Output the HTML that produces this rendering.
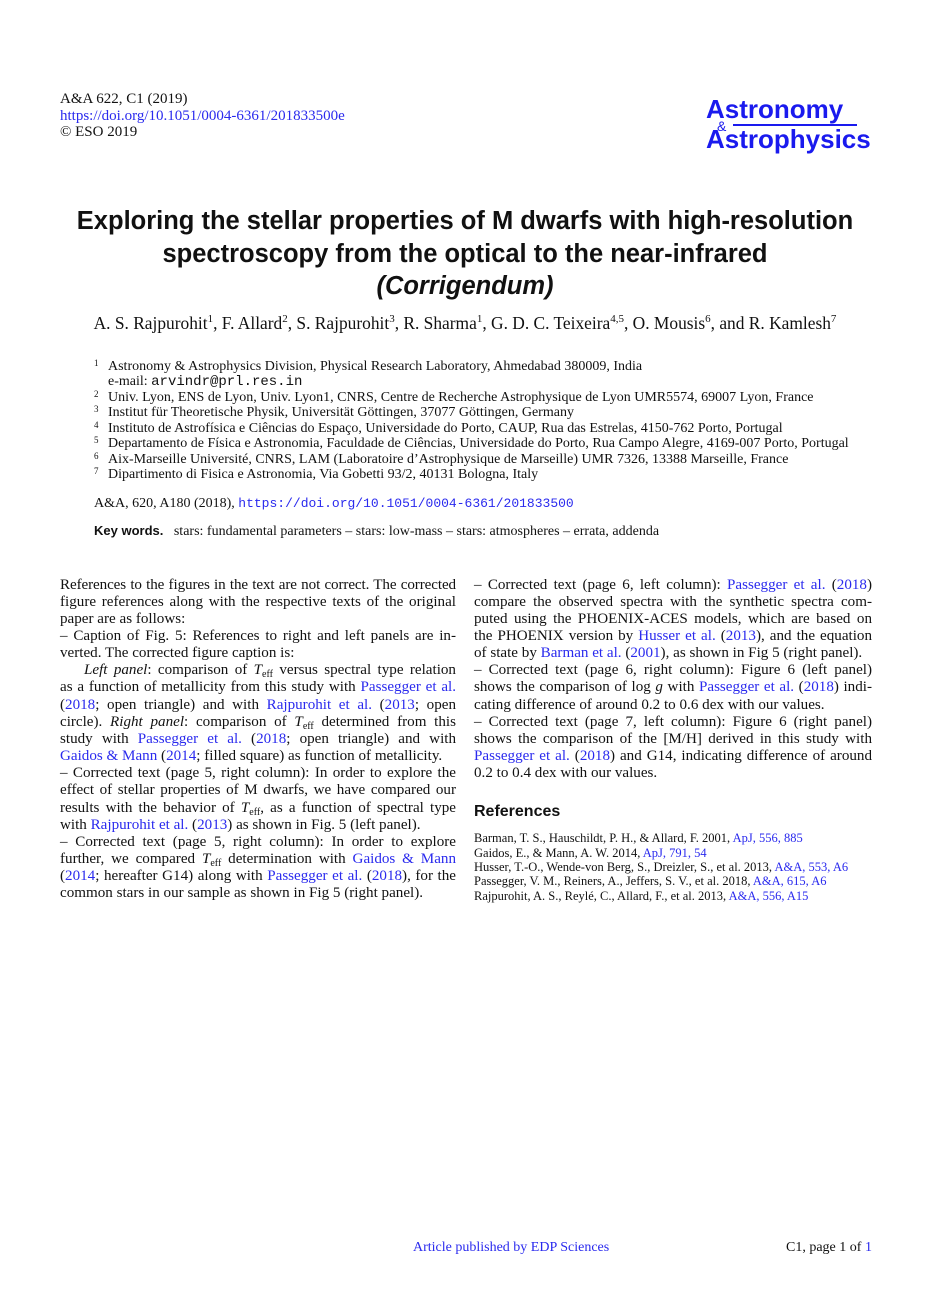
<!DOCTYPE html>
<html><head><meta charset="utf-8">
<style>
html,body{margin:0;padding:0;background:#fff;}
body{width:930px;height:1316px;position:relative;overflow:hidden;font-family:"Liberation Serif",serif;color:#111;}
.a{position:absolute;white-space:nowrap;}
.b{font-size:15.1px;line-height:17px;}
.j{width:396px;text-align:justify;text-align-last:justify;white-space:normal;}
.r{width:398px;}
a,.k{color:#2a2aee;text-decoration:none;}
.t{font-family:"Liberation Sans",sans-serif;font-weight:bold;font-size:25.5px;left:0;width:930px;text-align:center;}
.af{font-size:14px;line-height:15px;}
.af sup{font-size:9px;position:absolute;left:-14px;top:-3px;}
.rf{font-size:12.5px;line-height:14px;left:474px;}
sub{font-size:10px;vertical-align:-3px;line-height:0;}
.m{font-family:"Liberation Mono",monospace;}
</style></head><body>

<div class="a" style="left:60px;top:91px;font-size:15px;line-height:16.5px;">A&amp;A 622, C1 (2019)<br><span class="k">https://doi.org/10.1051/0004-6361/201833500e</span><br>© ESO 2019</div>

<div class="a" style="left:706px;top:94px;font-family:'Liberation Sans',sans-serif;font-weight:bold;font-size:26px;color:#1a1aee;line-height:30px;">Astronomy<br>Astrophysics</div>
<div class="a" style="left:733px;top:124px;width:124px;height:2px;background:#1a1aee;"></div>
<div class="a" style="left:717px;top:118px;font-family:'Liberation Sans',sans-serif;font-size:14px;color:#1a1aee;">&amp;</div>

<div class="a t" style="top:207px;">Exploring the stellar properties of M dwarfs with high-resolution</div>
<div class="a t" style="top:240px;">spectroscopy from the optical to the near-infrared</div>
<div class="a t" style="top:272px;font-style:italic;">(Corrigendum)</div>

<div class="a" style="left:0;width:930px;text-align:center;top:313px;font-size:17.4px;">A. S. Rajpurohit<sup style="font-size:11px">1</sup>, F. Allard<sup style="font-size:11px">2</sup>, S. Rajpurohit<sup style="font-size:11px">3</sup>, R. Sharma<sup style="font-size:11px">1</sup>, G. D. C. Teixeira<sup style="font-size:11px">4,5</sup>, O. Mousis<sup style="font-size:11px">6</sup>, and R. Kamlesh<sup style="font-size:11px">7</sup></div>

<div class="a af" style="left:108px;top:359px;"><sup>1</sup>Astronomy &amp; Astrophysics Division, Physical Research Laboratory, Ahmedabad 380009, India</div>
<div class="a af" style="left:108px;top:374px;">e-mail: <span class="m">arvindr@prl.res.in</span></div>
<div class="a af" style="left:108px;top:390px;"><sup>2</sup>Univ. Lyon, ENS de Lyon, Univ. Lyon1, CNRS, Centre de Recherche Astrophysique de Lyon UMR5574, 69007 Lyon, France</div>
<div class="a af" style="left:108px;top:405px;"><sup>3</sup>Institut für Theoretische Physik, Universität Göttingen, 37077 Göttingen, Germany</div>
<div class="a af" style="left:108px;top:421px;"><sup>4</sup>Instituto de Astrofísica e Ciências do Espaço, Universidade do Porto, CAUP, Rua das Estrelas, 4150-762 Porto, Portugal</div>
<div class="a af" style="left:108px;top:436px;"><sup>5</sup>Departamento de Física e Astronomia, Faculdade de Ciências, Universidade do Porto, Rua Campo Alegre, 4169-007 Porto, Portugal</div>
<div class="a af" style="left:108px;top:452px;"><sup>6</sup>Aix-Marseille Université, CNRS, LAM (Laboratoire d’Astrophysique de Marseille) UMR 7326, 13388 Marseille, France</div>
<div class="a af" style="left:108px;top:467px;"><sup>7</sup>Dipartimento di Fisica e Astronomia, Via Gobetti 93/2, 40131 Bologna, Italy</div>

<div class="a af" style="left:94px;top:496px;">A&amp;A, 620, A180 (2018), <span class="k m" style="font-size:13px;">https://doi.org/10.1051/0004-6361/201833500</span></div>
<div class="a af" style="left:94px;top:523px;"><b style="font-family:'Liberation Sans',sans-serif;font-size:13px;">Key words.</b>&nbsp;&nbsp; stars: fundamental parameters – stars: low-mass – stars: atmospheres – errata, addenda</div>

<!-- left column -->
<div class="a b j" style="left:60px;top:577px;letter-spacing:-0.1px;">References to the figures in the text are not correct. The corrected</div>
<div class="a b j" style="left:60px;top:594px;">figure references along with the respective texts of the original</div>
<div class="a b" style="left:60px;top:611px;">paper are as follows:</div>
<div class="a b j" style="left:60px;top:628px;">– Caption of Fig. 5: References to right and left panels are in-</div>
<div class="a b" style="left:60px;top:645px;">verted. The corrected figure caption is:</div>
<div class="a b j" style="left:60px;top:662px;padding-left:24px;width:372px;"><i>Left panel</i>: comparison of <i>T</i><sub>eff</sub> versus spectral type relation</div>
<div class="a b j" style="left:60px;top:679px;">as a function of metallicity from this study with <span class="k">Passegger et al.</span></div>
<div class="a b j" style="left:60px;top:697px;">(<span class="k">2018</span>; open triangle) and with <span class="k">Rajpurohit et al.</span> (<span class="k">2013</span>; open</div>
<div class="a b j" style="left:60px;top:714px;">circle). <i>Right panel</i>: comparison of <i>T</i><sub>eff</sub> determined from this</div>
<div class="a b j" style="left:60px;top:731px;">study with <span class="k">Passegger et al.</span> (<span class="k">2018</span>; open triangle) and with</div>
<div class="a b" style="left:60px;top:748px;"><span class="k">Gaidos &amp; Mann</span> (<span class="k">2014</span>; filled square) as function of metallicity.</div>
<div class="a b j" style="left:60px;top:765px;">– Corrected text (page 5, right column): In order to explore the</div>
<div class="a b j" style="left:60px;top:782px;">effect of stellar properties of M dwarfs, we have compared our</div>
<div class="a b j" style="left:60px;top:800px;">results with the behavior of <i>T</i><sub>eff</sub>, as a function of spectral type</div>
<div class="a b" style="left:60px;top:817px;">with <span class="k">Rajpurohit et al.</span> (<span class="k">2013</span>) as shown in Fig. 5 (left panel).</div>
<div class="a b j" style="left:60px;top:834px;">– Corrected text (page 5, right column): In order to explore</div>
<div class="a b j" style="left:60px;top:851px;">further, we compared <i>T</i><sub>eff</sub> determination with <span class="k">Gaidos &amp; Mann</span></div>
<div class="a b j" style="left:60px;top:868px;">(<span class="k">2014</span>; hereafter G14) along with <span class="k">Passegger et al.</span> (<span class="k">2018</span>), for the</div>
<div class="a b" style="left:60px;top:885px;">common stars in our sample as shown in Fig 5 (right panel).</div>

<!-- right column -->
<div class="a b j r" style="left:474px;top:577px;">– Corrected text (page 6, left column): <span class="k">Passegger et al.</span> (<span class="k">2018</span>)</div>
<div class="a b j r" style="left:474px;top:594px;">compare the observed spectra with the synthetic spectra com-</div>
<div class="a b j r" style="left:474px;top:611px;">puted using the PHOENIX-ACES models, which are based on</div>
<div class="a b j r" style="left:474px;top:628px;">the PHOENIX version by <span class="k">Husser et al.</span> (<span class="k">2013</span>), and the equation</div>
<div class="a b" style="left:474px;top:645px;">of state by <span class="k">Barman et al.</span> (<span class="k">2001</span>), as shown in Fig 5 (right panel).</div>
<div class="a b j r" style="left:474px;top:662px;">– Corrected text (page 6, right column): Figure 6 (left panel)</div>
<div class="a b j r" style="left:474px;top:679px;">shows the comparison of log <i>g</i> with <span class="k">Passegger et al.</span> (<span class="k">2018</span>) indi-</div>
<div class="a b" style="left:474px;top:697px;">cating difference of around 0.2 to 0.6 dex with our values.</div>
<div class="a b j r" style="left:474px;top:714px;">– Corrected text (page 7, left column): Figure 6 (right panel)</div>
<div class="a b j r" style="left:474px;top:731px;">shows the comparison of the [M/H] derived in this study with</div>
<div class="a b j r" style="left:474px;top:748px;"><span class="k">Passegger et al.</span> (<span class="k">2018</span>) and G14, indicating difference of around</div>
<div class="a b" style="left:474px;top:765px;">0.2 to 0.4 dex with our values.</div>

<div class="a" style="left:474px;top:803px;font-family:'Liberation Sans',sans-serif;font-weight:bold;font-size:16px;">References</div>
<div class="a rf" style="top:831px;">Barman, T. S., Hauschildt, P. H., &amp; Allard, F. 2001, <span class="k">ApJ, 556, 885</span></div>
<div class="a rf" style="top:846px;">Gaidos, E., &amp; Mann, A. W. 2014, <span class="k">ApJ, 791, 54</span></div>
<div class="a rf" style="top:860px;">Husser, T.-O., Wende-von Berg, S., Dreizler, S., et al. 2013, <span class="k">A&amp;A, 553, A6</span></div>
<div class="a rf" style="top:874px;">Passegger, V. M., Reiners, A., Jeffers, S. V., et al. 2018, <span class="k">A&amp;A, 615, A6</span></div>
<div class="a rf" style="top:889px;">Rajpurohit, A. S., Reylé, C., Allard, F., et al. 2013, <span class="k">A&amp;A, 556, A15</span></div>

<div class="a k" style="left:413px;top:1240px;font-size:14px;">Article published by EDP Sciences</div>
<div class="a" style="left:786px;top:1240px;font-size:14px;">C1, page 1 of <span class="k">1</span></div>
</body></html>
